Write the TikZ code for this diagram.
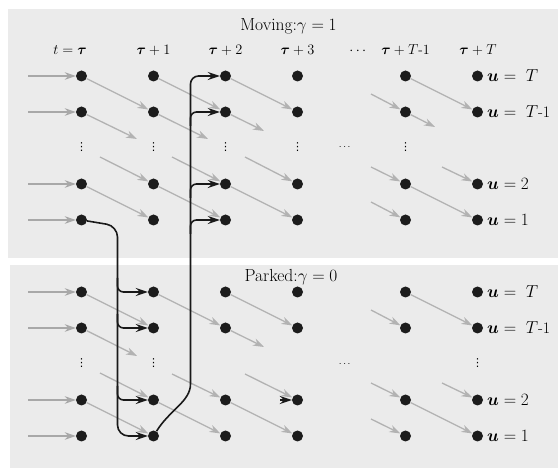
\documentclass[tikz,border=0pt]{standalone}
\usepackage{amsmath}
\usepackage{bm}
\usepackage{fontspec}
\newfontfamily\dvsans{DejaVu Sans}
\usetikzlibrary{arrows.meta,calc}
\definecolor{panelbg}{HTML}{EBEBEB}
\definecolor{arrgray}{HTML}{B2B2B2}
\definecolor{ingray}{HTML}{A8A8A8}
\definecolor{dotblack}{HTML}{1C1C1C}
\begin{document}
\begin{tikzpicture}[x=1pt,y=-1pt,
  state/.style={circle,fill=dotblack,minimum size=11pt,inner sep=0pt},
  garr/.style={draw=arrgray,line width=1.3pt,-{Stealth[length=11pt,width=7.5pt,inset=3.5pt]}},
  iarr/.style={draw=ingray,line width=1.3pt,-{Stealth[length=11pt,width=7.5pt,inset=3.5pt]}},
  barr/.style={draw=black!90,line width=1.6pt,rounded corners=6pt,-{Stealth[length=12pt,width=8pt,inset=4pt]}},
  hdr/.style={anchor=base,inner sep=0pt,font=\fontsize{14}{16}\selectfont},
  ulab/.style={anchor=west,inner sep=0pt,font=\fontsize{16}{18}\selectfont},
  vd/.style={inner sep=0pt,font=\dvsans\fontsize{11}{12}\selectfont},
  hd/.style={inner sep=0pt,font=\fontsize{10}{12}\selectfont},
  ttl/.style={anchor=base,inner sep=0pt,font=\fontsize{17.5}{19}\selectfont}]

\useasboundingbox (0,0) rectangle (558,468);
\fill[white] (0,0) rectangle (558,468);
\fill[panelbg] (8,9) rectangle (558,258.5);
\fill[panelbg] (10,265.5) rectangle (558,468);

% titles
\node[ttl] (tmove) at (288.5,31) {Moving:$\gamma = 1$};
\node[ttl] (tpark) at (291,281.5) {Parked:$\gamma = 0$};

% column headers
\node[hdr,anchor=base east] (h0) at (87,55) {$t = \bm{\tau}$};
\node[hdr] (h1) at (153.5,55) {$\bm{\tau}+1$};
\node[hdr] (h2) at (225.5,55) {$\bm{\tau}+2$};
\node[hdr] (h3) at (297.5,55) {$\bm{\tau}+3$};
\node[hdr] (hdots) at (359,55) {$\cdots$};
\node[hdr] (h4) at (405.5,55) {$\bm{\tau}+T$-1};
\node[hdr] (h5) at (478,55) {$\bm{\tau}+T$};

% states
\foreach \c/\x in {0/81.5,1/153.5,2/225.5,3/297.5,4/405.5,5/477.5}{
  \foreach \r/\y in {1/76,2/112,4/184,5/220}{
    \node[state] (m\c\r) at (\x,\y) {};
    \node[state] (p\c\r) at (\x,\y+216) {};
  }
}

% vertical dots and ellipses
\foreach \c/\x in {0/81.5,1/153.5,2/225.5,3/297.5,4/405.5}{
  \node[vd] (mv\c) at (\x,147) {⋮};
}
\foreach \c/\x in {0/81.5,1/153.5,5/477.5}{
  \node[vd] (pv\c) at (\x,363) {⋮};
}
\node[hd] (mc) at (345.5,147) {$\cdots$};
\node[hd] (pc) at (345.5,364) {$\cdots$};

% u labels
\foreach \pre/\off in {m/0,p/216}{
  \node[ulab] (\pre u1) at (487,76+\off) {$\bm{u} =\; T$};
  \node[ulab] (\pre u2) at (487,112+\off) {$\bm{u} =\; T$-1};
  \node[ulab] (\pre u4) at (487,184+\off) {$\bm{u} = 2$};
  \node[ulab] (\pre u5) at (487,220+\off) {$\bm{u} = 1$};
}

% input arrows
\foreach \r/\y in {1/76,2/112,4/184,5/220}{
  \coordinate (mi\r) at (28,\y);
  \coordinate (pi\r) at (28,\y+216);
  \draw[iarr] (mi\r) -- (m0\r);
  \draw[iarr] (pi\r) -- (p0\r);
}

% ---- Moving panel: gray transitions
\draw[garr] (m01) -- (m12);
\coordinate (me0) at (137,139); \draw[garr] (m02) -- (me0);
\coordinate (ms1) at (100,157); \draw[garr] (ms1) -- (m14);
\draw[garr] (m04) -- (m15);
\draw[garr] (m11) -- (m22);
\coordinate (me1) at (208,139); \draw[garr] (m12) -- (me1);
\coordinate (ms2) at (172,157); \draw[garr] (ms2) -- (m24);
\draw[garr] (m14) -- (m25);
\draw[garr] (m21) -- (m32);
\coordinate (me2) at (264,131); \draw[garr] (m22) -- (me2);
\coordinate (ms3) at (245,157); \draw[garr] (ms3) -- (m34);
\draw[garr] (m24) -- (m35);
\coordinate (ms4) at (371,94); \draw[garr] (ms4) -- (m42);
\coordinate (ms5) at (371,167); \draw[garr] (ms5) -- (m44);
\coordinate (ms6) at (371,202); \draw[garr] (ms6) -- (m45);
\draw[garr] (m41) -- (m52);
\coordinate (me4) at (435,127); \draw[garr] (m42) -- (me4);
\draw[garr] (m44) -- (m55);
\coordinate (ms7) at (442,167); \draw[garr] (ms7) -- (m54);

% ---- Parked panel: gray transitions
\draw[garr] (p01) -- (p12);
\coordinate (pe0) at (137,356); \draw[garr] (p02) -- (pe0);
\coordinate (ps1) at (100,373); \draw[garr] (ps1) -- (p14);
\draw[garr] (p04) -- (p15);
\draw[garr] (p11) -- (p22);
\coordinate (ps2) at (172,374); \draw[garr] (ps2) -- (p24);
\draw[garr] (p14) -- (p25);
\draw[garr] (p21) -- (p32);
\coordinate (pe2) at (264,347); \draw[garr] (p22) -- (pe2);
\coordinate (ps3) at (245,374); \draw[garr] (ps3) -- (p34);
\draw[garr] (p24) -- (p35);
\coordinate (ps4) at (371,310); \draw[garr] (ps4) -- (p42);
\coordinate (ps5) at (371,383); \draw[garr] (ps5) -- (p44);
\coordinate (ps6) at (371,419); \draw[garr] (ps6) -- (p45);
\draw[garr] (p41) -- (p52);
\draw[garr] (p44) -- (p55);
\coordinate (ps7) at (442,383); \draw[garr] (ps7) -- (p54);

% ---- black switching lines
% moving -> parked
\coordinate (k1) at (117.5,226);
\draw[barr,rounded corners=11pt] (m05) -- (k1) |- (p15);
\foreach \r/\y in {1/292,2/328,4/400}{
  \coordinate (j\r) at (117.5,\y-14);
  \draw[barr] (j\r) |- (p1\r);
}
% parked -> moving
\coordinate (k2) at (190.5,376);
\draw[barr,rounded corners=8pt] (p15) to[out=58,in=-90] (k2) |- (m21);
\foreach \r/\y in {2/112,4/184,5/220}{
  \coordinate (g\r) at (190.5,\y+14);
  \draw[barr] (g\r) |- (m2\r);
}
% small dark tip at parked tau+3, u=2
\coordinate (x1) at (280,400);
\draw[barr] (x1) -- (p34);

\end{tikzpicture}
\end{document}
